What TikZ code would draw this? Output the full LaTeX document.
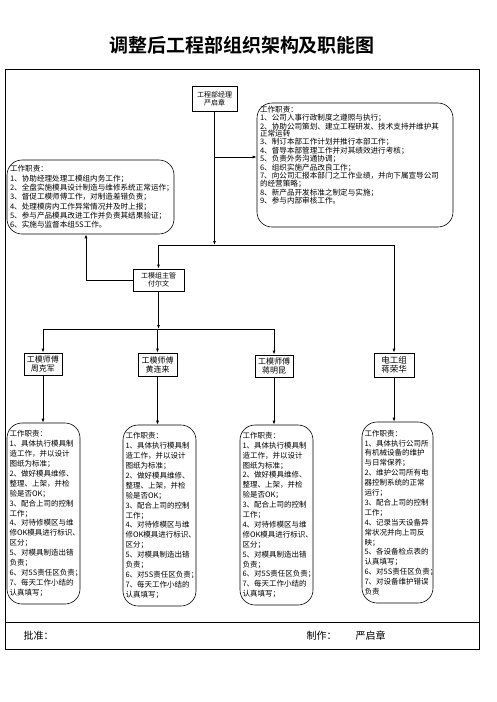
\documentclass[tikz,border=0pt]{standalone}
\usepackage{fontspec}
\setmainfont[BoldFont={Noto Sans CJK SC Bold}]{Noto Sans CJK SC}
\usetikzlibrary{arrows.meta}
\tikzset{
  post/.style={draw, line width=0.8pt, inner sep=1pt, align=center, font=\fontsize{7}{8}\selectfont},
  duty/.style={draw, line width=0.6pt, rounded corners=15pt, align=left, inner ysep=2pt},
  arr/.style={-{Latex[length=4pt,width=3pt]}, line width=0.8pt},
}
\newcommand{\mouldduty}{工作职责：\\
1、具体执行模具制\\
造工作，并以设计\\
图纸为标准；\\
2、做好模具维修、\\
整理、上架，并检\\
验是否OK；\\
3、配合上司的控制\\
工作；\\
4、对待修模区与维\\
修OK模具进行标识、\\
区分；\\
5、对模具制造出错\\
负责；\\
6、对5S责任区负责；\\
7、每天工作小结的\\
认真填写；}
\begin{document}
\begin{tikzpicture}[x=1pt,y=-1pt]
			\useasboundingbox (0,0) rectangle (496,702);
			\node (title) at (242,45) {\fontsize{19}{21}\selectfont\bfseries 调整后工程部组织架构及职能图};
			\draw[line width=1pt] (5,69) rectangle (479,649);
			\draw[line width=1pt] (5,622) -- (479,622);
			%
			\node[post, minimum width=45, minimum height=25] (mgr) at (214.5,98.5) {工程部经理\\严启章};
			\node[post, minimum width=51, minimum height=22] (sup) at (158.5,280) {工模组主管\\付尔文};
			\node[post, minimum width=38, minimum height=22, font=\fontsize{8}{9}\selectfont] (w1) at (43,364) {工模师傅\\周克军};
			\node[post, minimum width=39, minimum height=23, font=\fontsize{8}{9}\selectfont] (w2) at (157.5,364.5) {工模师傅\\黄连来};
			\node[post, minimum width=38, minimum height=22, font=\fontsize{8}{9}\selectfont] (w3) at (274,366) {工模师傅\\蒋明昆};
			\node[post, minimum width=40, minimum height=24, font=\fontsize{8.5}{9.5}\selectfont] (ele) at (394,365) {电工组\\蒋荣华};
			%
			\node[duty, text width=190, inner xsep=3, minimum height=124, font=\fontsize{7.6}{7.6}\selectfont] (mduty) at (355,165) {工作职责：\\
1、公司人事行政制度之遵照与执行；\\
2、协助公司策划、建立工程研发、技术支持并维护其\\
正常运转\\
3、制订本部工作计划并推行本部工作；\\
4、督导本部管理工作并对其绩效进行考核；\\
5、负责外务沟通协调；\\
6、组织实施产品改良工作；\\
7、向公司汇报本部门之工作业绩，并向下属宣导公司\\
的经营策略；\\
8、新产品开发标准之制定与实施；\\
9、参与内部审核工作。\\[12pt]\mbox{}};
			\node[duty, text width=161, inner xsep=3, minimum height=74, font=\fontsize{7.6}{9.3}\selectfont] (sduty) at (90.5,197) {工作职责：\\
1、协助经理处理工模组内务工作；\\
2、全盘实施模具设计制造与维修系统正常运作；\\
3、督促工模师傅工作，对制造差错负责；\\
4、处理模房内工作异常情况并及时上报；\\
5、参与产品模具改进工作并负责其结果验证；\\
6、实施与监督本组5S工作。};
			\node[duty, text width=68, inner xsep=2.5, minimum height=181, font=\fontsize{7.5}{9.9}\selectfont] (d1) at (43.5,513.5) {\mouldduty};
			\node[duty, text width=68, inner xsep=2.5, minimum height=181, font=\fontsize{7.5}{9.9}\selectfont] (d2) at (159.5,515.5) {\mouldduty};
			\node[duty, text width=68, inner xsep=2.5, minimum height=180, font=\fontsize{7.5}{9.9}\selectfont] (d3) at (276.5,515) {\mouldduty};
			\node[duty, text width=66, inner xsep=2.5, minimum height=181, font=\fontsize{7.5}{9.9}\selectfont] (d4) at (397.5,512.5) {工作职责：\\
1、具体执行公司所\\
有机械设备的维护\\
与日常保养；\\
2、维护公司所有电\\
器控制系统的正常\\
运行；\\
3、配合上司的控制\\
工作；\\
4、记录当天设备异\\
常状况并向上司反\\
映；\\
5、各设备检点表的\\
认真填写；\\
6、对5S责任区负责；\\
7、对设备维护错误\\
负责};
			%
			\coordinate (j1) at (214.5,245);
			\coordinate (t1) at (214.5,157);
			\coordinate (j2) at (158.5,329);
			\draw[arr] (mgr) -- (j1);
			\draw[arr] (t1) -- (t1 -| mduty.west);
			\draw[arr] (j1) -| (sup);
			\draw[arr] (j1) -| (ele);
			\draw[arr] (sup.west) -| ([xshift=-4.5]sduty.south);
			\draw[arr] (sup) -- (j2);
			\foreach \w in {w1, w2, w3}
			{	\draw[arr] (j2) -| (\w);
			}
			\foreach \w/\d in {w1/d1, w2/d2, w3/d3, ele/d4}
			{	\draw[arr] (\w) -- (\w |- \d.north);
			}
			%
			\node[anchor=west, font=\fontsize{10}{12}\selectfont] (approve) at (20,636) {批准：};
			\node[anchor=west, font=\fontsize{10}{12}\selectfont] (maker) at (303,636) {制作：};
			\node[anchor=west, font=\fontsize{10}{12}\selectfont] (makername) at (352,636) {严启章};
		\end{tikzpicture}
\end{document}
